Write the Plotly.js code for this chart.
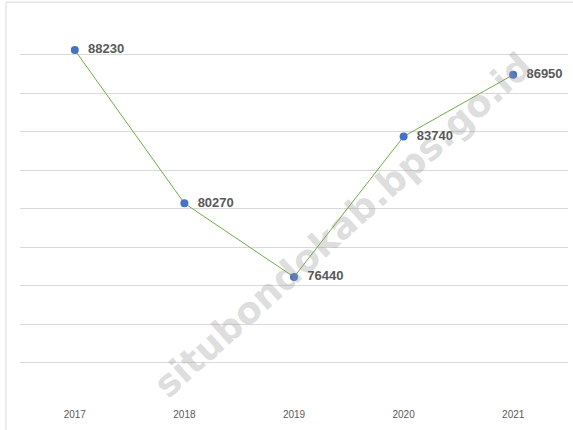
<!DOCTYPE html>
<html>
<head>
<meta charset="utf-8">
<script src="https://cdn.plot.ly/plotly-3.0.1.min.js"></script>
<style>
  body { margin: 0; background: #fff; }
  #plot { width: 573px; height: 430px; }
</style>
</head>
<body>
<div id="plot"></div>
<script>
// values
var years = ["2017", "2018", "2019", "2020", "2021"];
var values = [88230, 80270, 76440, 83740, 86950];

var trace1 = {
    x: years,
    y: values,
    mode: "lines+markers+text",
    type: "scatter",
    text: values.map(function (v) { return "  <b>" + v + "</b>"; }),
    textposition: "middle right",
    textfont: { family: "Liberation Sans, Arial, sans-serif", size: 13, color: "#595959" },
    line: { color: "#70AD47", width: 1 },
    marker: { color: "#4472C4", size: 8 },
    cliponaxis: false,
    hoverinfo: "x+y"
};

var layout = {
    width: 573,
    height: 430,
    margin: { l: 20, r: 5, t: 16, b: 29 },
    paper_bgcolor: "#fff",
    plot_bgcolor: "#fff",
    showlegend: false,
    font: { family: "Liberation Sans, Arial, sans-serif", color: "#595959" },
    xaxis: {
        type: "category",
        range: [-0.5, 4.5],
        showgrid: false,
        showline: false,
        zeroline: false,
        ticks: "",
        ticklabelstandoff: 6,
        tickfont: { size: 10, color: "#595959" },
        fixedrange: true
    },
    yaxis: {
        range: [70000, 90000],
        dtick: 2000,
        showticklabels: false,
        gridcolor: "#d9d9d9",
        gridwidth: 1,
        zeroline: false,
        showline: false,
        fixedrange: true
    },
    shapes: [{
        type: "rect",
        xref: "paper", yref: "paper",
        x0: -0.0255, x1: 1.01, y0: -0.1, y1: 1.036,
        line: { color: "#d9d9d9", width: 1 },
        fillcolor: "rgba(0,0,0,0)",
        layer: "below"
    }],
    annotations: [{
        text: "<b>situbondokab.bps.go.id</b>",
        xref: "paper", yref: "paper",
        x: (343 - 20) / 548, y: (401 - 226) / 385,
        xanchor: "center", yanchor: "middle",
        showarrow: false,
        textangle: -42,
        font: { family: "DejaVu Sans, Arial, sans-serif", size: 37, color: "rgba(150,150,150,0.33)" }
    }]
};

Plotly.newPlot("plot", [trace1], layout, { displayModeBar: false, staticPlot: true });
</script>
</body>
</html>
